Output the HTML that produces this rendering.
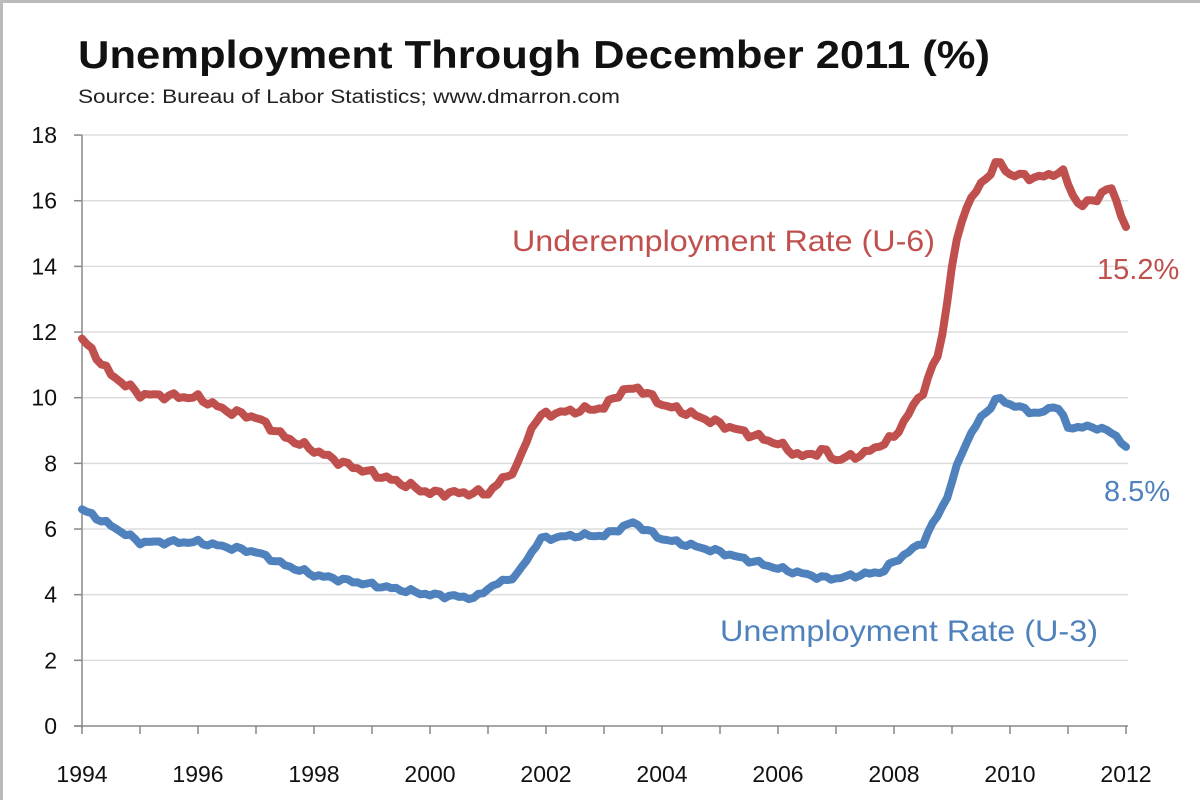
<!DOCTYPE html>
<html><head><meta charset="utf-8"><style>
html,body{margin:0;padding:0;background:#fff;width:1200px;height:800px;overflow:hidden;}
svg{display:block;font-family:"Liberation Sans",sans-serif;}
</style></head><body>
<svg id="s" width="1200" height="800" xmlns="http://www.w3.org/2000/svg">
<rect x="0" y="0" width="1200" height="800" fill="#fff"/>
<line x1="1.5" y1="0" x2="1.5" y2="800" stroke="#bbb" stroke-width="3"/>
<line x1="0" y1="1.5" x2="1200" y2="1.5" stroke="#bbb" stroke-width="3"/>
<text x="78" y="68" font-size="39" font-weight="bold" fill="#111" textLength="912" lengthAdjust="spacingAndGlyphs">Unemployment Through December 2011 (%)</text>
<text x="78" y="103" font-size="19" fill="#222" textLength="542" lengthAdjust="spacingAndGlyphs">Source: Bureau of Labor Statistics; www.dmarron.com</text>
<g id="grid"></g>
<g id="lines"></g>
<text x="512" y="251" font-size="30" fill="#c0504d" textLength="423" lengthAdjust="spacingAndGlyphs">Underemployment Rate (U-6)</text>
<text x="1097" y="279" font-size="29" fill="#c0504d">15.2%</text>
<text x="1104" y="501" font-size="29" fill="#4f81bd">8.5%</text>
<text x="720" y="641" font-size="30" fill="#4f81bd" textLength="378" lengthAdjust="spacingAndGlyphs">Unemployment Rate (U-3)</text>
</svg>
<script>
var NS="http://www.w3.org/2000/svg",s=document.getElementById('s');
function X(t){return 82+(t-1994)*58;}function Y(v){return 726-v*32.83;}
function el(n,a,p,txt){var e=document.createElementNS(NS,n);for(var k in a)e.setAttribute(k,a[k]);if(txt)e.textContent=txt;(p||s).appendChild(e);return e;}
var g=document.getElementById('grid');
for(var v=0;v<=18;v+=2){var y=Y(v);if(v>0)el('line',{x1:82,x2:1128,y1:y,y2:y,stroke:'#ddd','stroke-width':1.5},g);
el('line',{x1:74,x2:82,y1:y,y2:y,stroke:'#888','stroke-width':1.5},g);
el('text',{x:57,y:y+8,'font-size':23,'text-anchor':'end',fill:'#111'},g,String(v));}
el('line',{x1:82,x2:82,y1:Y(18),y2:Y(0)+2,stroke:'#888','stroke-width':1.5},g);
el('line',{x1:74,x2:1128,y1:Y(0),y2:Y(0),stroke:'#888','stroke-width':1.5},g);
for(var t=1994;t<=2012;t++){el('line',{x1:X(t),x2:X(t),y1:Y(0),y2:Y(0)+8,stroke:'#888','stroke-width':1.5},g);
if(t%2==0)el('text',{x:X(t),y:782,'font-size':23,'text-anchor':'middle',fill:'#111'},g,String(t));}
var u6=[[1994,11.8],[1994.5,10.7],[1995,10.1],[1996,10.0],[1996.5,9.6],[1997,9.4],[1997.5,8.8],[1998,8.4],[1998.5,8.0],[1999,7.7],[2000,7.1],[2001,7.1],[2001.5,7.9],[2001.8,9.3],[2002,9.5],[2003,9.7],[2003.3,10.2],[2003.6,10.3],[2004,9.8],[2005,9.2],[2006,8.6],[2006.4,8.2],[2006.8,8.4],[2007,8.1],[2007.5,8.3],[2008,8.8],[2008.5,10.2],[2008.8,11.5],[2009,14],[2009.2,15.7],[2009.5,16.5],[2009.8,17.2],[2010,16.8],[2010.5,16.7],[2010.9,16.9],[2011.2,15.8],[2011.5,16.1],[2011.75,16.4],[2012,15.2]];
var u3=[[1994,6.6],[1994.5,6.1],[1995,5.6],[1995.5,5.6],[1996,5.6],[1997,5.3],[1997.5,4.9],[1998,4.6],[1999,4.3],[2000,4.0],[2000.8,3.9],[2001,4.2],[2001.5,4.6],[2001.9,5.7],[2002.5,5.8],[2003,5.8],[2003.5,6.2],[2004,5.7],[2005,5.3],[2006,4.8],[2006.8,4.5],[2007,4.5],[2007.8,4.7],[2008,5.0],[2008.5,5.6],[2008.9,6.9],[2009.2,8.5],[2009.5,9.4],[2009.8,10.0],[2010,9.8],[2010.5,9.5],[2010.8,9.8],[2011,9.1],[2011.5,9.1],[2011.8,8.9],[2012,8.5]];
function interp(d,t){for(var i=1;i<d.length;i++)if(t<=d[i][0]){var a=d[i-1],b=d[i];return a[1]+(b[1]-a[1])*(t-a[0])/(b[0]-a[0]);}return d[d.length-1][1];}
function path(d,c,amp){var p='';for(var m=0;m<=216;m++){var t=1994+m/12,v=interp(d,t)+(m>0&&m<216?amp*Math.sin(m*2.7)*Math.cos(m*1.3):0);p+=(m?'L':'M')+X(t).toFixed(1)+','+Y(v).toFixed(1);}
el('path',{d:p,fill:'none',stroke:c,'stroke-width':8,'stroke-linejoin':'round','stroke-linecap':'round'},document.getElementById('lines'));}
path(u6,'#c0504d',0.12);path(u3,'#4f81bd',0.08);
</script>
</body></html>
